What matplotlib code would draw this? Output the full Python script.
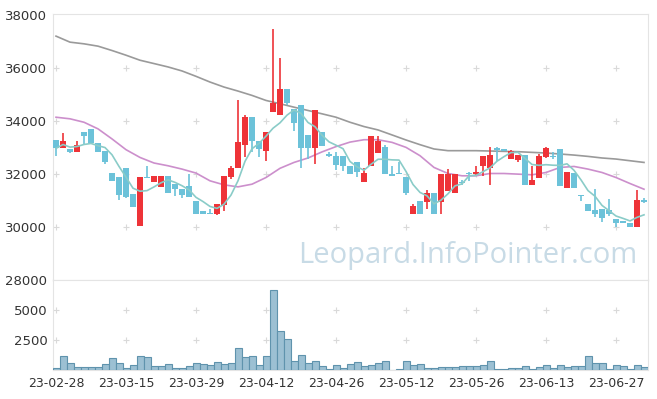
import numpy as np
import pandas as pd
import matplotlib
matplotlib.use("Agg")
import matplotlib.pyplot as plt

# daily candles, 23-02-28 .. 23-07-03 (85 trading days)
opens = [33303, 32973, 32950, 32822, 33607, 33721, 33163, 32886, 32024, 31899,
         32214, 31264, 30038, 31899, 31720, 31530, 31937, 31633, 31443, 31557,
         30987, 30607, 30530, 30505, 30835, 31873, 32214, 33102, 34177, 33265,
         32860, 34340, 34241, 35202, 34469, 34594, 33493, 32973, 33607, 32745,
         32696, 32696, 32316, 32468, 31720, 32290, 32784, 33011, 32001, 32037,
         31910, 30482, 30987, 30961, 31277, 30961, 31367, 31303, 31696, 32020,
         32001, 32316, 32240, 32986, 32950, 32570, 32532, 32734, 31607, 31849,
         32658, 32669, 32962, 31469, 32024, 31190, 30862, 30646, 30695, 30634,
         30292, 30228, 30163, 30000, 31025]
highs = [33303, 33558, 32950, 33265, 33607, 33721, 33163, 32886, 32024, 31899,
         32214, 31264, 31899, 32316, 31925, 31925, 31937, 31633, 31443, 32001,
         30987, 30607, 30672, 30862, 31937, 32316, 34811, 34241, 34177, 33265,
         33607, 37493, 36405, 35202, 34469, 34594, 33493, 34405, 33607, 32821,
         32848, 32696, 32316, 32468, 32214, 33455, 33455, 33100, 32290, 32450,
         31910, 30885, 30987, 31400, 31277, 32001, 32191, 32001, 31780, 32080,
         32316, 32696, 33011, 33011, 32950, 32924, 32734, 32734, 32290, 32760,
         33011, 32820, 32962, 32088, 32024, 31190, 30862, 31455, 30695, 31075,
         30292, 30228, 30163, 31393, 31080]
lows = [32696, 32973, 32799, 32822, 33140, 33140, 32848, 32381, 31747, 31014,
        31101, 30759, 30038, 31861, 31720, 31530, 31302, 31177, 31113, 31151,
        30505, 30505, 30505, 30467, 30608, 31811, 32214, 32631, 32822, 32631,
        32506, 34340, 34241, 34594, 33619, 32214, 32570, 32381, 33076, 32631,
        32164, 32126, 31986, 31873, 31720, 32290, 32784, 32001, 31937, 32001,
        31215, 30482, 30505, 30672, 30482, 30482, 31367, 31303, 31600, 31747,
        31960, 31937, 31595, 32506, 32860, 32570, 32442, 31583, 31607, 31849,
        32620, 32560, 31545, 31469, 31469, 30990, 30608, 30380, 30200, 30420,
        30000, 30163, 30000, 30000, 30900]
closes = [32973, 33265, 32822, 33113, 33429, 33163, 32848, 32468, 31747, 31226,
          31139, 30759, 31899, 31861, 31925, 31925, 31302, 31431, 31226, 31151,
          30505, 30505, 30505, 30862, 31937, 32240, 33201, 34177, 33239, 32950,
          33607, 34697, 35202, 34684, 33922, 32973, 32973, 34405, 33076, 32669,
          32342, 32316, 31986, 32062, 32037, 33455, 33265, 32001, 31937, 32001,
          31302, 30797, 30505, 31302, 30482, 32001, 32001, 32001, 31670, 32001,
          32088, 32696, 32734, 32924, 32860, 32860, 32734, 31583, 31785, 32696,
          32988, 32631, 31545, 32088, 31469, 31177, 30608, 30482, 30353, 30482,
          30163, 30163, 30000, 31025, 30961]
volumes = [140, 1130, 550, 220, 220, 220, 220, 470, 960, 550,
           140, 385, 1180, 1045, 300, 300, 470, 140, 140, 300,
           550, 470, 410, 630, 470, 550, 1790, 1045, 1180, 385,
           1130, 6655, 3190, 2530, 715, 1210, 550, 715, 300, 55,
           385, 140, 470, 630, 300, 385, 550, 715, 10, 55,
           715, 385, 470, 140, 140, 220, 220, 220, 300, 300,
           300, 385, 715, 55, 55, 140, 140, 300, 55, 220,
           385, 140, 385, 220, 300, 300, 1130, 550, 550, 55,
           385, 300, 55, 385, 220]

# 20-day and long moving averages read every second day
ma20 = [34150, 34090, 33960, 33710, 33330, 32924, 32630, 32420, 32316, 32190,
        32040, 31747, 31595, 31519, 31620, 31872, 32220, 32442, 32610, 32840,
        33040, 33210, 33300, 33300, 33200, 33011, 32696, 32252, 32024, 31937,
        31937, 32024, 32024, 32000, 31975, 32062, 32252, 32290, 32190, 32062,
        31872, 31645, 31430]
ma_long = [37214, 36986, 36923, 36835, 36670, 36493, 36303, 36177, 36050, 35898,
           35695, 35479, 35290, 35138, 34974, 34784, 34659, 34530, 34405, 34279,
           34150, 33960, 33797, 33670, 33481, 33290, 33113, 32950, 32886, 32886,
           32886, 32873, 32860, 32848, 32822, 32798, 32760, 32720, 32670, 32610,
           32570, 32506, 32442]

tick_labels = ["23-02-28", "23-03-15", "23-03-29", "23-04-12", "23-04-26",
               "23-05-12", "23-05-26", "23-06-13", "23-06-27"]

df = pd.DataFrame({"open": opens, "high": highs, "low": lows,
                   "close": closes, "volume": volumes})
x = np.arange(len(df))
ma5 = df["close"].rolling(5, min_periods=1).mean()
x2 = np.arange(0, len(df), 2)

RED = "#ee3338"
BLUE = "#6cc2d9"
GRID = "#d9d9d9"
SPINE = "#e4e4e4"

fig = plt.figure(figsize=(6.57, 3.99), dpi=100)
ax = fig.add_axes([53 / 657, 1 - 280 / 399, 595 / 657, 266 / 399])
axv = fig.add_axes([53 / 657, 1 - 370 / 399, 595 / 657, 90 / 399], sharex=ax)

up = df["close"] >= df["open"]
colors = np.where(up, RED, BLUE)
body_lo = np.minimum(df["open"], df["close"])
body_h = np.maximum((df["close"] - df["open"]).abs(), 30)

ax.vlines(x, df["low"], df["high"], colors=colors, linewidth=1.2, zorder=3)
ax.bar(x, body_h, bottom=body_lo, width=0.72, color=colors, zorder=4)

ax.plot(x2, ma_long, color="#9a9a9a", linewidth=1.2, zorder=2)
ax.plot(x2, ma20, color="#cc8fcc", linewidth=1.2, zorder=2)
ax.plot(x, ma5, color="#8accc8", linewidth=1.2, zorder=5)

ax.set_xlim(-0.43, 84.57)
ax.set_ylim(28000, 38050)

gx = np.arange(0, 85, 10)
for gy in [30000, 32000, 34000, 36000]:
    ax.plot(gx, [gy] * len(gx), linestyle="none", marker="+", markersize=5,
            color=GRID, markeredgewidth=0.8, zorder=1)

ax.set_yticks([28000, 30000, 32000, 34000, 36000, 38000])
ax.tick_params(axis="y", length=0, labelsize=9.5, labelcolor="#333333", pad=4)
ax.tick_params(axis="x", length=0, labelbottom=False)
for s in ax.spines.values():
    s.set_color(SPINE)

fig.text(0.9696, 1 - 256 / 399, "Leopard.InfoPointer.com", ha="right",
         va="center", fontsize=21, color="#c8dbe6", family="Open Sans")

axv.bar(x, df["volume"], width=1.0, color="#9cc0d3", edgecolor="#5f93ad",
        linewidth=0.8, zorder=3)
axv.set_ylim(0, 7450)
axv.set_yticks([2500, 5000])
for gy in [2500, 5000]:
    axv.plot(gx, [gy] * len(gx), linestyle="none", marker="+", markersize=5,
             color=GRID, markeredgewidth=0.8, zorder=1)
axv.tick_params(axis="y", length=0, labelsize=9.5, labelcolor="#333333", pad=4)
axv.set_xticks(gx)
axv.set_xticklabels(tick_labels)
axv.tick_params(axis="x", length=0, labelsize=9, labelcolor="#333333", pad=5)
for s in axv.spines.values():
    s.set_color(SPINE)

fig.savefig("out.png", dpi=100)
